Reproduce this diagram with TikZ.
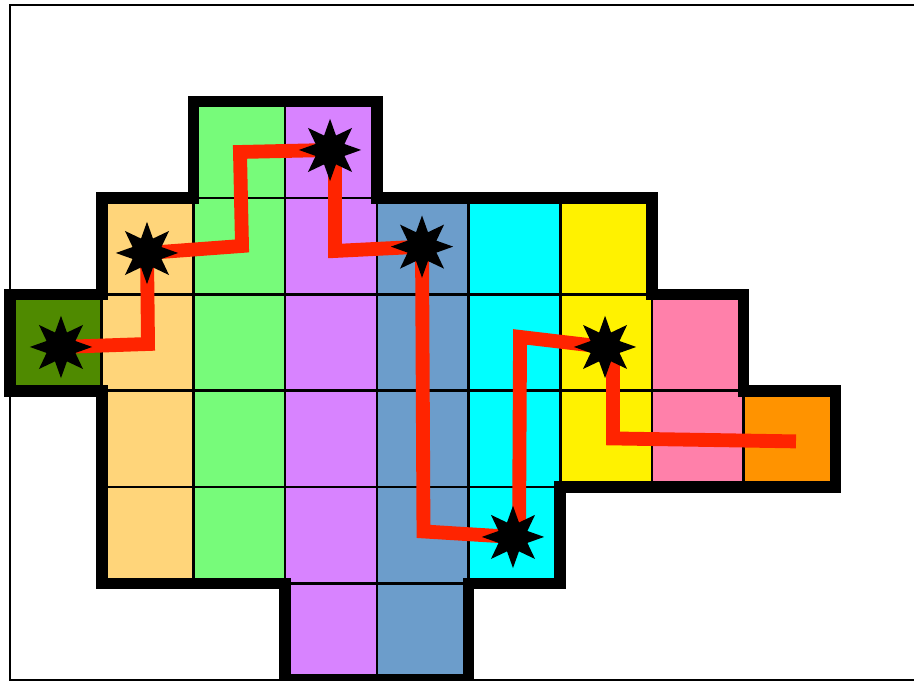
\documentclass[tikz,border=0pt]{standalone}
\usepackage{tikz}
\usetikzlibrary{shapes.geometric}
\definecolor{moss}{RGB}{79,138,0}
\definecolor{peach}{RGB}{255,213,122}
\definecolor{mint}{RGB}{119,251,122}
\definecolor{lilac}{RGB}{216,131,255}
\definecolor{steel}{RGB}{108,157,203}
\definecolor{aqua}{RGB}{0,255,255}
\definecolor{rosepink}{RGB}{255,128,170}
\definecolor{tangerine}{RGB}{255,147,0}
\definecolor{routered}{RGB}{255,36,0}

\begin{document}
\begin{tikzpicture}[x=1cm,y=1.051cm,line join=miter,
    cell/.style={fill=#1, draw=black, line width=0.8pt},
    burst/.style={star, star points=8, star point ratio=2, minimum size=0.68cm,
                  inner sep=0pt, fill=black},
    route/.style={line width=4.3pt, draw=routered}]
    \useasboundingbox (-0.109,-0.01) rectangle (9.858,7.054);

    % Frame
    \draw[line width=0.6pt] (0,0) rectangle (10,7);

    % Coloured columns of cells
    \foreach \c/\lo/\hi/\col in {0/3/4/moss, 1/1/5/peach, 2/1/6/mint, 3/0/6/lilac,
                                 4/0/5/steel, 5/1/5/aqua, 6/2/5/yellow,
                                 7/2/4/rosepink, 8/2/3/tangerine} {
        \pgfmathtruncatemacro\toprow{\hi-1}
        \foreach \r in {\lo,...,\toprow}
            \filldraw[cell=\col] (\c,\r) rectangle ++(1,1);
    }

    % Outline of the region
    \draw[line width=3.6pt] (0,4) -- (1,4) -- (1,5) -- (2,5) -- (2,6) -- (4,6) -- (4,5)
        -- (7,5) -- (7,4) -- (8,4) -- (8,3) -- (9,3) -- (9,2) -- (6,2) -- (6,1)
        -- (5,1) -- (5,0) -- (3,0) -- (3,1) -- (1,1) -- (1,3) -- (0,3) -- cycle;

    % Stops and bends of the route
    \coordinate (m1) at (0.556,3.454);
    \coordinate (m2) at (1.494,4.429);
    \coordinate (m3) at (3.490,5.498);
    \coordinate (m4) at (4.493,4.495);
    \coordinate (m5) at (5.485,1.483);
    \coordinate (m6) at (6.489,3.454);
    \coordinate (bend1) at (1.505,3.485);
    \coordinate (bend2) at (2.530,4.502);
    \coordinate (bend3) at (2.508,5.477);
    \coordinate (out3) at (3.544,5.477);
    \coordinate (bend4) at (3.544,4.450);
    \coordinate (bend5) at (4.509,1.540);
    \coordinate (out5) at (5.551,1.494);
    \coordinate (bend6) at (5.562,3.558);
    \coordinate (out6) at (6.576,3.423);
    \coordinate (bend7) at (6.576,2.505);
    \coordinate (finish) at (8.571,2.474);

    % Route
    \draw[route] (m1) -- (bend1) -- (m2) -- (bend2) -- (bend3) -- (m3) -- (out3)
        -- (bend4) -- (m4) -- (bend5) -- (m5) -- (out5) -- (bend6) -- (m6)
        -- (out6) -- (bend7) -- (finish);

    % Stars
    \foreach \i in {1,...,6}
        \node[burst] (b\i) at (m\i) {};
\end{tikzpicture}
\end{document}
